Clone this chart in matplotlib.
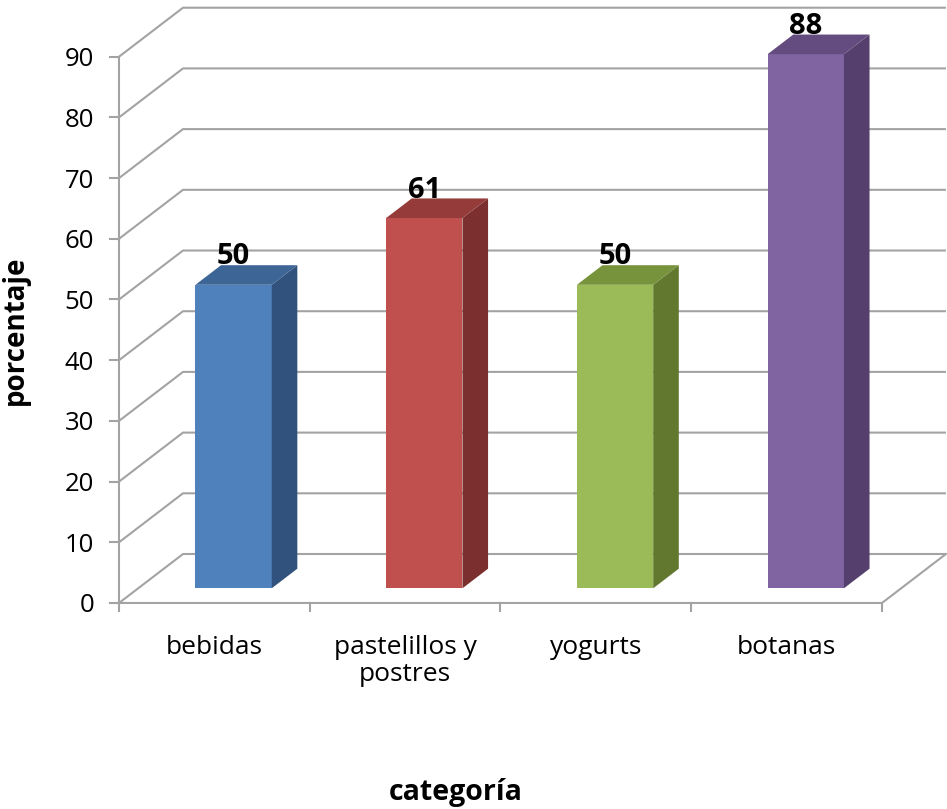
import numpy as np
import matplotlib.pyplot as plt
from matplotlib.patches import Polygon

# datos
categorias = ['bebidas', 'pastelillos y\npostres', 'yogurts', 'botanas']
porcentajes = [50, 61, 50, 88]
colores_frente = ['#4F81BD', '#C0504D', '#9BBB59', '#8064A2']
colores_arriba = ['#3D6595', '#953C3A', '#77933C', '#654C80']
colores_lado = ['#30527C', '#7B2F2E', '#62782F', '#553F6C']
yticks = np.arange(0, 100, 10)

# fake 3d: depth vector of the whole floor, in data units
DX, DY = 0.3355, 8.07
ancho = 0.4          # bar width (gap 150%)
z0, z1 = 0.3, 0.7    # bar front / back depth fraction
gris = '#A3A3A3'
fuente = ['Open Sans', 'DejaVu Sans']

fig = plt.figure(figsize=(9.47, 8.09), dpi=100)
ax = fig.add_axes([0, 0, 1, 1])
ax.set_xlim(-0.624, 4.341)
ax.set_ylim(-33.94, 99.34)
ax.axis('off')

n = len(categorias)

# walls / gridlines
for t in yticks:
    ax.plot([0, DX, n + DX], [t, t + DY, t + DY], color=gris, lw=1.5, zorder=1,
            solid_capstyle='butt')
ax.plot([0, n, n + DX], [0, 0, DY], color=gris, lw=1.5, zorder=1)
ax.plot([0, 0], [0, yticks[-1]], color=gris, lw=1.5, zorder=1)

# y ticks
for t in yticks:
    ax.plot([-0.047, 0], [t, t], color=gris, lw=1.5, zorder=1)
    ax.text(-0.13, t, str(t), ha='right', va='center_baseline', fontsize=18.5,
            family=fuente, color='#000000')

# x ticks
for i in range(n + 1):
    ax.plot([i, i], [0, -1.3], color=gris, lw=1.5, zorder=1)
for i, c in enumerate(categorias):
    ax.text(i + 0.5, -5.3, c, ha='center', va='top', fontsize=19,
            family=fuente, linespacing=1.12)

# bars
for i, v in enumerate(porcentajes):
    xl = i + 0.5 - ancho / 2 + z0 * DX
    xr = xl + ancho
    ddx = (z1 - z0) * DX
    ddy = (z1 - z0) * DY
    yb = z0 * DY
    yt = v + z0 * DY
    frente = Polygon([(xl, yb), (xr, yb), (xr, yt), (xl, yt)], closed=True,
                     facecolor=colores_frente[i], edgecolor='none', zorder=3)
    lado = Polygon([(xr, yb), (xr + ddx, yb + ddy), (xr + ddx, yt + ddy), (xr, yt)],
                   closed=True, facecolor=colores_lado[i], edgecolor='none', zorder=3)
    arriba = Polygon([(xl, yt), (xr, yt), (xr + ddx, yt + ddy), (xl + ddx, yt + ddy)],
                     closed=True, facecolor=colores_arriba[i], edgecolor='none', zorder=3)
    ax.add_patch(frente)
    ax.add_patch(lado)
    ax.add_patch(arriba)
    ax.text((xl + xr) / 2, v + z1 * DY + 0.15, str(v), ha='center', va='baseline',
            fontsize=21, fontweight='bold', family=fuente, zorder=4)

# axis titles
ax.text(1.767, -31.2, 'categoría', ha='center', va='center', fontsize=20.5,
        fontweight='bold', family=fuente)
ax.text(-0.545, 45.0, 'porcentaje', ha='center', va='center', fontsize=20,
        fontweight='bold', family=fuente, rotation=90)

fig.savefig('out.png', dpi=100)
